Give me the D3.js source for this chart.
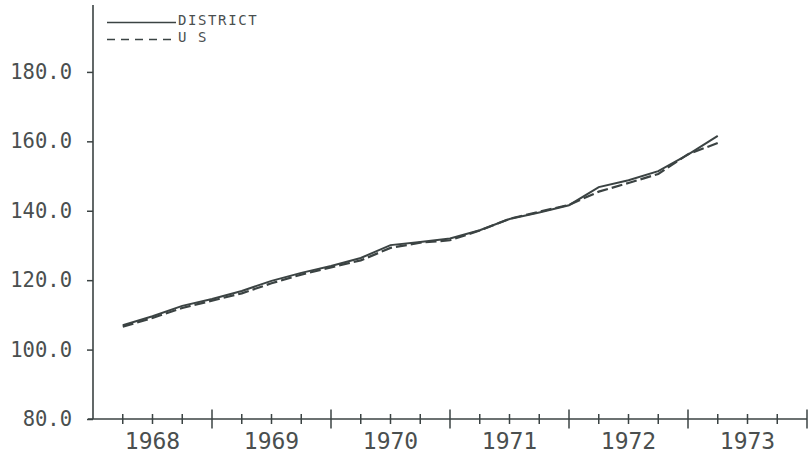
<!DOCTYPE html>
<html><head><meta charset="utf-8">
<script src="https://cdn.jsdelivr.net/npm/d3@7"></script>
<style>
html,body{margin:0;padding:0;background:#fff;}
svg{display:block;}
text{font-family:"DejaVu Sans Mono","Liberation Mono",monospace;fill:#4a4f4f;}
</style></head>
<body>
<svg id="chart" width="808" height="457"></svg>
<script>
// ---- data (quarterly, plotted at quarter end) ----
const quarters = [1968.25,1968.5,1968.75,1969.0,1969.25,1969.5,1969.75,1970.0,1970.25,1970.5,1970.75,1971.0,1971.25,1971.5,1971.75,1972.0,1972.25,1972.5,1972.75,1973.0,1973.25];
const district = [107.0,109.6,112.6,114.6,116.9,119.8,122.1,124.1,126.4,130.1,131.0,132.0,134.4,137.6,139.5,141.6,146.8,148.8,151.4,156.2,161.6];
const us       = [106.6,109.1,112.0,114.1,116.2,119.1,121.6,123.7,125.7,129.3,130.8,131.5,134.3,137.7,139.7,141.7,145.5,148.0,150.6,156.3,159.5];
const yTicks = [80,100,120,140,160,180];
const years = [1968,1969,1970,1971,1972,1973];
const legendLabels = ["DISTRICT","U S"];

const ink = "#3b4343";
const svg = d3.select("#chart");
const x = d3.scaleLinear().domain([1968,1974]).range([93,807]);
const y = d3.scaleLinear().domain([80,200]).range([419,2.5]);

// y axis
const yAxis = d3.axisLeft(y).tickValues(yTicks).tickFormat(d3.format(".1f"))
  .tickSize(6).tickSizeOuter(0).tickPadding(15);
const gy = svg.append("g").attr("transform",`translate(${x(1968)},0)`).call(yAxis);
gy.select(".domain").remove();
gy.selectAll(".tick line").attr("stroke",ink).attr("stroke-width",1.5);
gy.selectAll(".tick text").style("font-size","20.5px").attr("fill","#4a4f4f");
svg.append("line").attr("x1",x(1968)).attr("x2",x(1968)).attr("y1",y(80)).attr("y2",5)
  .attr("stroke",ink).attr("stroke-width",1.6);

// x axis
const gx = svg.append("g").attr("transform",`translate(0,${y(80)})`);
gx.append("line").attr("x1",x(1968)-5).attr("x2",x(1974)).attr("y1",0).attr("y2",0)
  .attr("stroke",ink).attr("stroke-width",1.6);
const quarterTicks = d3.range(0,25).map(i=>1968+i*0.25).filter(t=>t>1968);
gx.selectAll("line.tk").data(quarterTicks).join("line").attr("class","tk")
  .attr("x1",d=>x(d)).attr("x2",d=>x(d))
  .attr("y1",d=>Number.isInteger(d)?-9.5:-5).attr("y2",d=>Number.isInteger(d)?9.5:5)
  .attr("stroke",ink).attr("stroke-width",1.5);
gx.selectAll("text.yr").data(years).join("text").attr("class","yr")
  .attr("x",d=>x(d+0.5)).attr("y",30).attr("text-anchor","middle")
  .style("font-size","23px").text(d=>d);

// lines
const line = d3.line().x((d,i)=>x(quarters[i])).y(d=>y(d));
svg.append("path").datum(us).attr("d",line).attr("fill","none")
  .attr("stroke",ink).attr("stroke-width",2.2).attr("stroke-dasharray","11,4");
svg.append("path").datum(district).attr("d",line).attr("fill","none")
  .attr("stroke",ink).attr("stroke-width",2);

// legend
const lg = svg.append("g");
lg.append("line").attr("x1",107).attr("x2",176).attr("y1",22.5).attr("y2",22.5)
  .attr("stroke",ink).attr("stroke-width",1.5);
lg.append("line").attr("x1",107).attr("x2",172).attr("y1",39.5).attr("y2",39.5)
  .attr("stroke",ink).attr("stroke-width",1.5).attr("stroke-dasharray","8,6");
lg.selectAll("text").data(legendLabels).join("text")
  .attr("x",178).attr("y",(d,i)=>24.5+i*17).style("font-size","14px")
  .style("letter-spacing","1.6px").text(d=>d);
</script>
</body></html>
